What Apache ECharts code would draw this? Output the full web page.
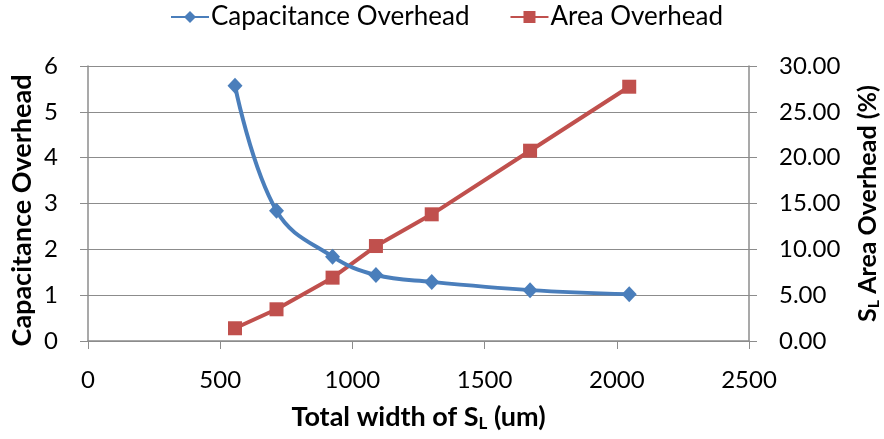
<!DOCTYPE html>
<html>
<head>
<meta charset="utf-8">
<script src="https://cdn.jsdelivr.net/npm/echarts@6/dist/echarts.min.js"></script>
<style>
  html, body { margin: 0; padding: 0; background: #fff; }
  #chart { width: 884px; height: 439px; }
</style>
</head>
<body>
<div id="chart"></div>
<script>
// Total width of S_L (um) at each measured configuration
const widths = [556, 713, 925, 1089, 1300, 1672, 2047];
// Capacitance overhead (left axis)
const capOverhead = [5.57, 2.84, 1.84, 1.44, 1.29, 1.11, 1.02];
// S_L area overhead in percent (right axis)
const areaOverhead = [1.39, 3.46, 6.91, 10.36, 13.82, 20.76, 27.74];

const FONT = 'Lato, "Open Sans", sans-serif';
const GRID_GRAY = '#8c8c8c';
const BLUE = '#4a7ebb';
const RED = '#c0504d';

const pair = (xs, ys) => xs.map((x, i) => [x, ys[i]]);

const chart = echarts.init(document.getElementById('chart'), null, { renderer: 'canvas' });

chart.setOption({
  animation: false,
  backgroundColor: '#fff',
  textStyle: { fontFamily: FONT, color: '#000' },
  legend: {
    top: -1,
    left: 165,
    itemGap: 40,
    itemWidth: 38,
    itemHeight: 15,
    textStyle: { fontFamily: FONT, fontSize: 26, color: '#000', padding: [0, 0, 0, -3] },
    data: ['Capacitance Overhead', 'Area Overhead']
  },
  grid: { left: 88, right: 135, top: 66, bottom: 98, containLabel: false, outerBoundsMode: 'none' },
  xAxis: {
    type: 'value',
    min: 0, max: 2500, interval: 500,
    name: '{b|Total width of S}{s|L}{b| (um)}',
    nameLocation: 'middle',
    nameGap: 62,
    nameMoveOverlap: false,
    nameTextStyle: {
      rich: {
        b: { fontFamily: FONT, fontSize: 27, fontWeight: 'bold', color: '#000' },
        s: { fontFamily: FONT, fontSize: 17, fontWeight: 'bold', color: '#000', verticalAlign: 'bottom', padding: [12, 0, 0, 0] }
      }
    },
    axisLine: { show: true, lineStyle: { color: GRID_GRAY, width: 1.5 } },
    axisTick: { show: true, length: 8, lineStyle: { color: GRID_GRAY } },
    axisLabel: { fontFamily: FONT, fontSize: 24, color: '#000', margin: 27,
                 formatter: v => String(v) },
    splitLine: { show: false }
  },
  yAxis: [
    {
      type: 'value',
      min: 0, max: 6, interval: 1,
      position: 'left',
      name: 'Capacitance Overhead',
      nameLocation: 'middle',
      nameRotate: 90,
      nameGap: 52,
      nameMoveOverlap: false,
      nameTextStyle: { fontFamily: FONT, fontSize: 27, fontWeight: 'bold', color: '#000', padding: [0, 14, 0, 0] },
      axisLine: { show: true, lineStyle: { color: GRID_GRAY, width: 1.5 } },
      axisTick: { show: true, length: 8, inside: false, lineStyle: { color: GRID_GRAY } },
      axisLabel: { fontFamily: FONT, fontSize: 24, color: '#000', margin: 30 },
      splitLine: { show: true, lineStyle: { color: GRID_GRAY, width: 1.2 } }
    },
    {
      type: 'value',
      min: 0, max: 30, interval: 5,
      position: 'right',
      name: '{s|S}{sub|L}{s| Area Overhead (%)}',
      nameLocation: 'middle',
      nameRotate: 90,
      nameGap: 105,
      nameMoveOverlap: false,
      nameTextStyle: {
        rich: {
          s: { fontFamily: FONT, fontSize: 25, fontWeight: 'bold', color: '#000' },
          sub: { fontFamily: FONT, fontSize: 16, fontWeight: 'bold', color: '#000', verticalAlign: 'bottom', padding: [12, 0, 0, 0] }
        }
      },
      axisLine: { show: true, lineStyle: { color: GRID_GRAY, width: 1.5 } },
      axisTick: { show: true, length: 8, lineStyle: { color: GRID_GRAY } },
      axisLabel: { fontFamily: FONT, fontSize: 24, color: '#000', margin: 30,
                   formatter: v => v.toFixed(2) },
      splitLine: { show: false }
    }
  ],
  series: [
    {
      name: 'Capacitance Overhead',
      type: 'line',
      yAxisIndex: 0,
      data: pair(widths, capOverhead),
      smooth: 0.4,
      symbol: 'diamond',
      symbolSize: [15, 16],
      lineStyle: { color: BLUE, width: 4 },
      itemStyle: { color: BLUE },
      z: 3
    },
    {
      name: 'Area Overhead',
      type: 'line',
      yAxisIndex: 1,
      data: pair(widths, areaOverhead),
      symbol: 'rect',
      symbolSize: 14,
      lineStyle: { color: RED, width: 4 },
      itemStyle: { color: RED },
      z: 2
    }
  ]
});
</script>
</body>
</html>
